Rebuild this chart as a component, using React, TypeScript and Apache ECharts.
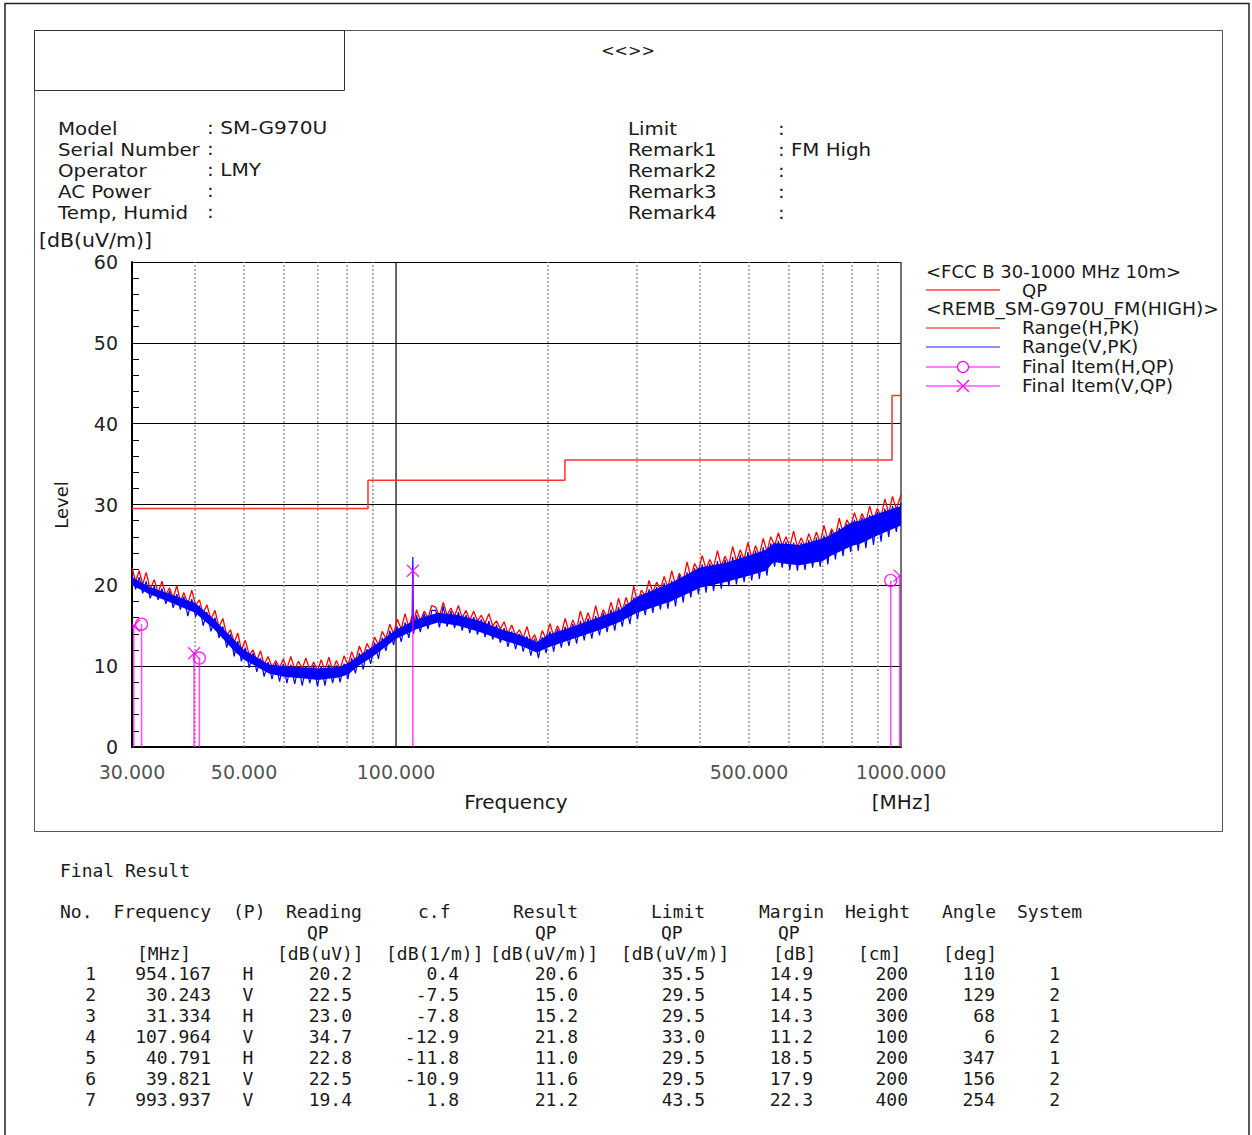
import React, { useEffect, useRef } from "react";
import * as echarts from "echarts";

const FONT = "'DejaVu Sans', 'Liberation Sans', sans-serif";
const MONO = "'DejaVu Sans Mono', 'Liberation Mono', monospace";

// Sweep frequencies [MHz]
const FREQ = [
  30, 30.5, 31, 31.5, 32, 32.6, 33.2, 33.8, 34.4, 35,
  35.6, 36.2, 36.8, 37.4, 38, 38.7, 39.4, 40.1, 40.8, 41.5,
  42.2, 43, 43.8, 44.6, 45.4, 46.2, 47, 47.8, 48.6, 49.4,
  50.3, 51.2, 52.1, 53, 53.9, 54.8, 55.8, 56.8, 57.8, 58.8,
  59.8, 60.8, 61.9, 63, 64.1, 65.2, 66.3, 67.5, 68.7, 69.9,
  71.1, 72.3, 73.6, 74.9, 76.2, 77.5, 78.9, 80.3, 81.7, 83.1,
  84.6, 86.1, 87.6, 89.1, 90.7, 92.3, 93.9, 95.5, 97.2, 98.9,
  100.6, 102.4, 104.2, 106, 107.6, 107.964, 108.3, 109.8, 111.7, 113.7, 115.7, 117.7,
  119.8, 121.9, 124, 126.2, 128.4, 130.6, 132.9, 135.2, 137.6, 140,
  142.5, 145, 147.5, 150.1, 152.7, 155.4, 158.1, 160.9, 163.7, 166.6,
  169.5, 172.5, 175.5, 178.6, 181.7, 184.9, 188.1, 191.4, 194.8, 198.2,
  201.7, 205.2, 208.8, 212.5, 216.2, 220, 223.9, 227.8, 231.8, 235.9,
  240, 244.2, 248.5, 252.9, 257.3, 261.8, 266.4, 271.1, 275.8, 280.6,
  285.5, 290.5, 295.6, 300.8, 306.1, 311.5, 317, 322.5, 328.1, 333.8,
  339.6, 345.5, 351.5, 357.7, 364, 370.4, 376.9, 383.5, 390.2, 397,
  404, 411, 418.2, 425.5, 433, 440.6, 448.3, 456.1, 464.1, 472.2,
  480.5, 489, 497.6, 506.3, 515.2, 524.2, 533.4, 542.7, 552.2, 561.9,
  571.7, 581.7, 591.9, 602.3, 612.8, 623.5, 634.4, 645.5, 656.8, 668.3,
  680, 691.9, 704, 716.3, 728.8, 741.5, 754.5, 767.7, 781.1, 794.8,
  808.7, 822.9, 837.3, 852, 866.9, 882.1, 897.5, 913.2, 929.2, 945.5,
  962, 978.8, 1000,
];

// Range(H,PK) [dB(uV/m)]
const RANGE_H = [
  22.2, 20.5, 21.8, 20.1, 21.6, 19.5, 20.7, 19.1, 20.5, 18.8,
  19.7, 18.4, 20.0, 18.0, 19.1, 17.7, 19.4, 17.5, 18.2, 16.5,
  17.6, 15.8, 16.9, 14.8, 15.9, 13.8, 14.5, 12.9, 14.1, 12.0,
  13.2, 11.4, 12.0, 10.7, 11.9, 10.2, 11.2, 9.9, 10.7, 9.8,
  10.9, 9.7, 11.2, 9.6, 10.6, 9.7, 11.0, 9.5, 10.5, 9.4,
  10.8, 9.4, 11.1, 9.5, 10.7, 9.6, 11.3, 10.1, 11.8, 10.6,
  12.5, 11.3, 12.8, 11.9, 13.6, 12.6, 14.3, 13.4, 15.2, 14.0,
  15.8, 14.6, 16.5, 14.8, 16.2, 15.2, 15.3, 17.0, 15.6, 16.8, 16.0, 17.5,
  17.3, 16.2, 17.9, 16.3, 17.2, 16.2, 17.5, 16.0, 16.9, 15.7,
  16.8, 15.6, 16.3, 15.3, 16.5, 15.0, 15.6, 14.6, 15.5, 14.0,
  15.1, 13.8, 14.5, 13.5, 14.9, 13.1, 13.9, 12.7, 14.4, 13.4,
  15.3, 13.7, 15.0, 14.0, 15.9, 14.3, 15.7, 14.6, 16.8, 15.2,
  16.6, 15.3, 17.5, 15.6, 17.0, 16.0, 17.9, 16.3, 18.4, 16.8,
  18.5, 17.1, 19.9, 17.8, 19.4, 18.7, 20.6, 19.1, 20.4, 19.5,
  21.1, 19.7, 21.8, 20.0, 21.5, 20.5, 22.9, 21.0, 22.7, 21.8,
  23.7, 22.0, 23.2, 22.2, 24.3, 22.4, 23.6, 22.6, 24.8, 23.0,
  24.4, 23.2, 25.3, 23.4, 24.9, 23.7, 25.8, 24.2, 26.0, 24.9,
  26.5, 24.9, 26.0, 24.8, 26.7, 24.7, 25.9, 24.8, 26.4, 25.1,
  26.6, 25.3, 27.4, 25.6, 27.0, 26.0, 28.3, 26.5, 28.1, 27.3,
  29.0, 27.5, 28.9, 27.8, 29.8, 28.1, 29.5, 28.5, 30.7, 28.9,
  31.0, 29.4, 31.2,
];

// Range(V,PK) [dB(uV/m)]
const RANGE_V = [
  21.3, 19.5, 21.0, 19.0, 20.5, 18.4, 19.9, 18.2, 19.6, 17.7,
  19.3, 17.2, 18.9, 17.0, 18.6, 16.2, 18.3, 16.1, 17.5, 15.0,
  16.7, 14.3, 16.0, 13.5, 14.9, 12.3, 14.0, 11.2, 13.1, 10.6,
  12.3, 9.8, 11.6, 9.3, 11.0, 8.7, 10.5, 8.4, 10.4, 8.1,
  10.3, 7.9, 10.2, 7.8, 10.0, 7.6, 9.9, 7.9, 10.1, 7.5,
  10.0, 7.6, 10.2, 7.9, 10.1, 8.0, 10.3, 8.4, 11.0, 9.1,
  11.6, 9.6, 12.1, 10.3, 12.9, 10.9, 13.5, 11.9, 14.4, 12.6,
  14.9, 13.0, 15.4, 13.5, 15.8, 23.5, 14.0, 16.3, 14.2, 16.5, 14.6, 16.9,
  16.9, 14.8, 17.4, 14.9, 16.8, 14.7, 16.7, 14.4, 16.3, 14.1,
  16.1, 13.9, 15.8, 13.6, 15.6, 13.3, 15.1, 12.9, 14.7, 12.4,
  14.3, 12.1, 14.0, 11.8, 13.7, 11.3, 13.4, 11.0, 13.6, 11.6,
  14.3, 11.8, 14.6, 12.3, 14.9, 12.5, 15.2, 12.8, 15.6, 13.2,
  15.9, 13.4, 16.2, 13.8, 16.6, 14.2, 17.0, 14.4, 17.3, 14.9,
  17.7, 15.2, 18.5, 15.8, 18.9, 16.3, 19.5, 16.6, 19.8, 17.0,
  20.3, 17.1, 20.6, 17.4, 21.2, 17.9, 21.6, 18.5, 22.1, 18.9,
  22.6, 19.1, 22.7, 19.3, 23.0, 19.6, 23.2, 19.9, 23.5, 20.1,
  23.8, 20.4, 24.1, 20.6, 24.3, 20.8, 24.7, 21.2, 25.2, 22.3,
  25.5, 22.2, 25.4, 21.9, 25.3, 21.8, 25.3, 21.9, 25.6, 22.2,
  25.9, 22.3, 26.2, 22.6, 26.7, 23.2, 27.1, 23.6, 27.6, 24.1,
  28.1, 24.3, 28.4, 24.6, 28.7, 25.0, 29.1, 25.4, 29.5, 26.0,
  29.8, 26.6, 30.2,
];

// Dense body of the Range(V,PK) trace: lower / upper edge
const V_ENV_FREQ = [30, 32.5, 35.4, 40, 43.6, 47.9, 50, 56, 60, 67.5, 70, 77, 80.5, 84, 90, 100, 110, 121, 133, 147, 161, 177, 190, 200, 222, 254, 278, 300, 350, 400, 450, 500, 540, 560, 600, 630, 700, 724, 800, 828, 900, 1000];
const V_ENV_LO = [20.0, 18.9, 18.0, 16.6, 14.6, 11.8, 10.8, 9.1, 8.7, 8.4, 8.3, 8.6, 9.0, 10.0, 11.2, 13.4, 14.6, 15.4, 15.0, 14.2, 13.3, 12.5, 11.7, 12.3, 13.3, 14.5, 15.5, 16.6, 18.0, 19.7, 20.4, 21.2, 21.8, 22.9, 22.6, 22.5, 23.0, 23.6, 24.9, 25.1, 26.2, 27.4];
const V_ENV_HI = [21.0, 19.8, 19.0, 17.8, 15.8, 13.2, 12.0, 10.2, 10.0, 9.8, 9.7, 9.9, 10.4, 11.2, 12.4, 14.5, 15.8, 16.6, 16.3, 15.6, 14.6, 13.8, 13.0, 13.9, 14.8, 16.1, 17.0, 18.6, 20.3, 22.2, 22.8, 23.7, 24.4, 25.2, 25.1, 25.0, 25.8, 26.2, 27.8, 28.0, 28.9, 29.8];

// FCC B 30-1000 MHz 10m, QP limit
const LIMIT_FREQ = [30, 88, 88, 216, 216, 960, 960, 1000];
const LIMIT_QP = [29.5, 29.5, 33.0, 33.0, 35.5, 35.5, 43.5, 43.5];

const GRID_FREQ = [40, 50, 60, 70, 80, 90, 100, 200, 300, 400, 500, 600, 700, 800, 900, 1000];
const X_TICKS = [30, 50, 100, 500, 1000];
const X_TICK_LABELS = ["30.000", "50.000", "100.000", "500.000", "1000.000"];
const Y_MIN = 0;
const Y_MAX = 60;
const Y_STEP = 10;

// Final result table
const FINAL_NO = [1, 2, 3, 4, 5, 6, 7];
const FINAL_FREQ = [954.167, 30.243, 31.334, 107.964, 40.791, 39.821, 993.937];
const FINAL_POL = ["H", "V", "H", "V", "H", "V", "V"];
const FINAL_READING = [20.2, 22.5, 23.0, 34.7, 22.8, 22.5, 19.4];
const FINAL_CF = [0.4, -7.5, -7.8, -12.9, -11.8, -10.9, 1.8];
const FINAL_RESULT = [20.6, 15.0, 15.2, 21.8, 11.0, 11.6, 21.2];
const FINAL_LIMIT = [35.5, 29.5, 29.5, 33.0, 29.5, 29.5, 43.5];
const FINAL_MARGIN = [14.9, 14.5, 14.3, 11.2, 18.5, 17.9, 22.3];
const FINAL_HEIGHT = [200, 200, 300, 100, 200, 200, 400];
const FINAL_ANGLE = [110, 129, 68, 6, 347, 156, 254];
const FINAL_SYSTEM = [1, 2, 1, 2, 1, 2, 2];

const HEADER_LEFT = [
  ["Model", "SM-G970U"],
  ["Serial Number", ""],
  ["Operator", "LMY"],
  ["AC Power", ""],
  ["Temp, Humid", ""],
];
const HEADER_RIGHT = [
  ["Limit", ""],
  ["Remark1", "FM High"],
  ["Remark2", ""],
  ["Remark3", ""],
  ["Remark4", ""],
];

const MAGENTA = "#ff00ff";
const TXT = "#1a1a1a";

function txt(text: string, x: number, y: number, opts: any = {}) {
  const align = opts.align || "left";
  return {
    type: "text",
    x,
    y,
    scaleX: opts.scaleX || 1,
    rotation: opts.rotation || 0,
    silent: true,
    style: {
      text,
      fill: opts.fill || TXT,
      fontSize: opts.fontSize || 18,
      fontFamily: opts.fontFamily || FONT,
      align,
      verticalAlign: "middle",
      textAlign: align,
      textVerticalAlign: "middle",
    },
  };
}

function line(x1: number, y1: number, x2: number, y2: number, stroke: string, lineWidth = 1) {
  return { type: "line", silent: true, shape: { x1, y1, x2, y2 }, style: { stroke, lineWidth } };
}

function buildGraphics() {
  const g: any[] = [];
  // frames
  g.push({ type: "rect", silent: true, shape: { x: 5, y: 3.5, width: 1244, height: 1145 }, style: { fill: "none", stroke: "#222", lineWidth: 1.5 } });
  g.push({ type: "rect", silent: true, shape: { x: 34.5, y: 30.5, width: 1188, height: 801 }, style: { fill: "none", stroke: "#555", lineWidth: 1 } });
  g.push({ type: "rect", silent: true, shape: { x: 34.5, y: 30.5, width: 310, height: 60 }, style: { fill: "none", stroke: "#333", lineWidth: 1 } });
  g.push(txt("<<>>", 628, 50, { align: "center", fontSize: 16 }));

  // header info
  HEADER_LEFT.forEach((r, i) => {
    const y = 128 + i * 21;
    g.push(txt(r[0], 58, y, { scaleX: 1.1 }));
    g.push(txt(":" + (r[1] ? " " + r[1] : ""), 207, y, { scaleX: 1.12 }));
  });
  HEADER_RIGHT.forEach((r, i) => {
    const y = 128 + i * 21;
    g.push(txt(r[0], 628, y, { scaleX: 1.1 }));
    g.push(txt(":" + (r[1] ? " " + r[1] : ""), 778, y, { scaleX: 1.1 }));
  });

  // axis titles
  g.push(txt("[dB(uV/m)]", 39, 241, { fontSize: 19, scaleX: 1.08 }));
  g.push(txt("Level", 61, 505, { align: "center", rotation: Math.PI / 2, fontSize: 18 }));
  g.push(txt("Frequency", 516, 802, { align: "center", fontSize: 20 }));
  g.push(txt("[MHz]", 901, 802, { align: "center", fontSize: 20 }));

  // legend
  g.push(txt("<FCC B 30-1000 MHz 10m>", 926, 271));
  g.push(line(926, 290, 1000, 290, "#ff7070", 2));
  g.push(txt("QP", 1022, 290));
  g.push(txt("<REMB_SM-G970U_FM(HIGH)>", 926, 309, { scaleX: 1.04 }));
  g.push(line(926, 328, 1000, 328, "#ff0000", 1));
  g.push(txt("Range(H,PK)", 1022, 328, { scaleX: 1.04 }));
  g.push(line(926, 347, 1000, 347, "#2020ff", 1));
  g.push(txt("Range(V,PK)", 1022, 347, { scaleX: 1.04 }));
  g.push(line(926, 367, 1000, 367, MAGENTA, 1));
  g.push({ type: "circle", silent: true, shape: { cx: 963, cy: 367, r: 5.5 }, style: { fill: "#fff", stroke: MAGENTA, lineWidth: 1.2 } });
  g.push(txt("Final Item(H,QP)", 1022, 367, { scaleX: 1.04 }));
  g.push(line(926, 386, 1000, 386, MAGENTA, 1));
  g.push(line(957, 380, 969, 392, MAGENTA, 1.2));
  g.push(line(957, 392, 969, 380, MAGENTA, 1.2));
  g.push(txt("Final Item(V,QP)", 1022, 386, { scaleX: 1.04 }));

  // table
  g.push(txt("Final Result", 60, 870, { fontFamily: MONO }));
  const hy1 = 911, hy2 = 932, hy3 = 953;
  const T = (s: string, x: number, y: number, align = "left") => g.push(txt(s, x, y, { fontFamily: MONO, align }));
  T("No.", 60, hy1);
  T("Frequency", 211, hy1, "right");
  T("(P)", 233, hy1);
  T("Reading", 286, hy1);
  T("c.f", 418, hy1);
  T("Result", 513, hy1);
  T("Limit", 651, hy1);
  T("Margin", 759, hy1);
  T("Height", 845, hy1);
  T("Angle", 942, hy1);
  T("System", 1017, hy1);
  T("QP", 307, hy2);
  T("QP", 535, hy2);
  T("QP", 661, hy2);
  T("QP", 778, hy2);
  T("[MHz]", 137, hy3);
  T("[dB(uV)]", 277, hy3);
  T("[dB(1/m)]", 386, hy3);
  T("[dB(uV/m)]", 490, hy3);
  T("[dB(uV/m)]", 621, hy3);
  T("[dB]", 773, hy3);
  T("[cm]", 858, hy3);
  T("[deg]", 943, hy3);
  FINAL_NO.forEach((n, i) => {
    const y = 973 + i * 21;
    T(String(n), 96, y, "right");
    T(FINAL_FREQ[i].toFixed(3), 211, y, "right");
    T(FINAL_POL[i], 248, y, "center");
    T(FINAL_READING[i].toFixed(1), 352, y, "right");
    T(FINAL_CF[i].toFixed(1), 459, y, "right");
    T(FINAL_RESULT[i].toFixed(1), 578, y, "right");
    T(FINAL_LIMIT[i].toFixed(1), 705, y, "right");
    T(FINAL_MARGIN[i].toFixed(1), 813, y, "right");
    T(String(FINAL_HEIGHT[i]), 908, y, "right");
    T(String(FINAL_ANGLE[i]), 995, y, "right");
    T(String(FINAL_SYSTEM[i]), 1060, y, "right");
  });
  return g;
}

export default function App() {
  const ref = useRef<HTMLDivElement>(null);
  useEffect(() => {
    if (!ref.current) return;
    const chart = echarts.init(ref.current, undefined, { renderer: "svg" });
    const n = Math.min(FREQ.length, RANGE_H.length, RANGE_V.length);
    const hData = [] as number[][];
    const vData = [] as number[][];
    for (let i = 0; i < n; i++) {
      hData.push([FREQ[i], RANGE_H[i]]);
      vData.push([FREQ[i], RANGE_V[i]]);
    }
    const option: any = {
      animation: false,
      backgroundColor: "#ffffff",
      grid: { left: 132, top: 262, width: 769, height: 485, containLabel: false },
      xAxis: {
        type: "log",
        logBase: 10,
        min: 30,
        max: 1000,
        axisLine: { show: true, onZero: false, lineStyle: { color: "#000", width: 2 } },
        axisTick: { show: false },
        minorTick: { show: false },
        axisLabel: { show: false },
        splitLine: { show: false },
      },
      yAxis: {
        type: "value",
        min: Y_MIN,
        max: Y_MAX,
        interval: Y_STEP,
        axisLine: { show: true, lineStyle: { color: "#000", width: 2 } },
        axisTick: { show: true, inside: true, length: 12, lineStyle: { color: "#000", width: 1 } },
        minorTick: { show: true, splitNumber: 5, length: 7, lineStyle: { color: "#000", width: 1 } },
        axisLabel: { fontSize: 19, fontFamily: FONT, color: "#222", margin: 14 },
        splitLine: { show: true, lineStyle: { color: "#000", width: 1 } },
      },
      series: [
        {
          type: "custom",
          name: "grid",
          z: 1,
          silent: true,
          clip: false,
          data: GRID_FREQ.map((f) => [f, Y_MIN]),
          encode: { x: 0, y: 1 },
          renderItem: (_p: any, api: any) => {
            const f = api.value(0);
            const a = api.coord([f, Y_MIN]);
            const b = api.coord([f, Y_MAX]);
            const major = f === 100;
            const edge = f === 1000;
            return {
              type: "line",
              shape: { x1: a[0], y1: a[1], x2: b[0], y2: b[1] },
              style: {
                stroke: major ? "#000" : edge ? "#444" : "#888",
                lineWidth: major ? 1.2 : edge ? 1.5 : 1.3,
                lineDash: major || edge ? null : [2, 2],
              },
            };
          },
        },
        {
          type: "line",
          name: "QP",
          z: 2,
          data: LIMIT_FREQ.map((f, i) => [f, LIMIT_QP[i]]),
          symbol: "none",
          lineStyle: { color: "#ff3030", width: 1.5 },
          silent: true,
        },
        {
          type: "line",
          name: "Range(H,PK)",
          z: 3,
          data: hData,
          symbol: "none",
          lineStyle: { color: "#ff0000", width: 1.3 },
          silent: true,
        },
        {
          type: "custom",
          name: "Range(V,PK) body",
          z: 4,
          silent: true,
          clip: true,
          data: [[V_ENV_FREQ[0], V_ENV_LO[0]]],
          encode: { x: 0, y: 1 },
          renderItem: (_p: any, api: any) => {
            const pts: number[][] = [];
            for (let i = 0; i < V_ENV_FREQ.length; i++) pts.push(api.coord([V_ENV_FREQ[i], V_ENV_HI[i]]));
            for (let i = V_ENV_FREQ.length - 1; i >= 0; i--) pts.push(api.coord([V_ENV_FREQ[i], V_ENV_LO[i]]));
            return { type: "polygon", shape: { points: pts }, style: { fill: "#0000ff" } };
          },
        },
        {
          type: "line",
          name: "Range(V,PK)",
          z: 5,
          data: vData,
          symbol: "none",
          lineStyle: { color: "#0000ff", width: 1.2 },
          silent: true,
        },
        {
          type: "custom",
          name: "Final Item",
          z: 6,
          silent: true,
          clip: true,
          data: FINAL_FREQ.map((f, i) => [f, FINAL_RESULT[i], FINAL_POL[i] === "V" ? 1 : 0]),
          encode: { x: 0, y: 1 },
          renderItem: (_p: any, api: any) => {
            const f = api.value(0);
            const v = api.value(1);
            const isV = api.value(2) === 1;
            const p0 = api.coord([f, Y_MIN]);
            const p1 = api.coord([f, v]);
            const children: any[] = [
              { type: "line", shape: { x1: p0[0], y1: p0[1], x2: p1[0], y2: p1[1] }, style: { stroke: MAGENTA, lineWidth: 1.6, opacity: 0.7 } },
            ];
            if (isV) {
              const s = 6;
              children.push({ type: "line", shape: { x1: p1[0] - s, y1: p1[1] - s, x2: p1[0] + s, y2: p1[1] + s }, style: { stroke: MAGENTA, lineWidth: 1.3, opacity: 0.85 } });
              children.push({ type: "line", shape: { x1: p1[0] - s, y1: p1[1] + s, x2: p1[0] + s, y2: p1[1] - s }, style: { stroke: MAGENTA, lineWidth: 1.3, opacity: 0.85 } });
            } else {
              children.push({ type: "circle", shape: { cx: p1[0], cy: p1[1], r: 6 }, style: { fill: "none", stroke: MAGENTA, lineWidth: 1.3, opacity: 0.85 } });
            }
            return { type: "group", children };
          },
        },
        {
          type: "scatter",
          name: "xticks",
          z: 7,
          silent: true,
          clip: false,
          symbolSize: 1,
          itemStyle: { color: "rgba(0,0,0,0)" },
          data: X_TICKS.map((f, i) => ({ value: [f, Y_MIN], label: { formatter: X_TICK_LABELS[i] } })),
          label: { show: true, position: "bottom", distance: 15, fontSize: 19, fontFamily: FONT, color: "#222" },
        },
      ],
      graphic: { elements: buildGraphics() },
    };
    chart.setOption(option);
    return () => chart.dispose();
  }, []);
  return (
    <div
      ref={ref}
      style={{ position: "absolute", left: 0, top: 0, width: 1252, height: 1135, background: "#fff" }}
    />
  );
}
